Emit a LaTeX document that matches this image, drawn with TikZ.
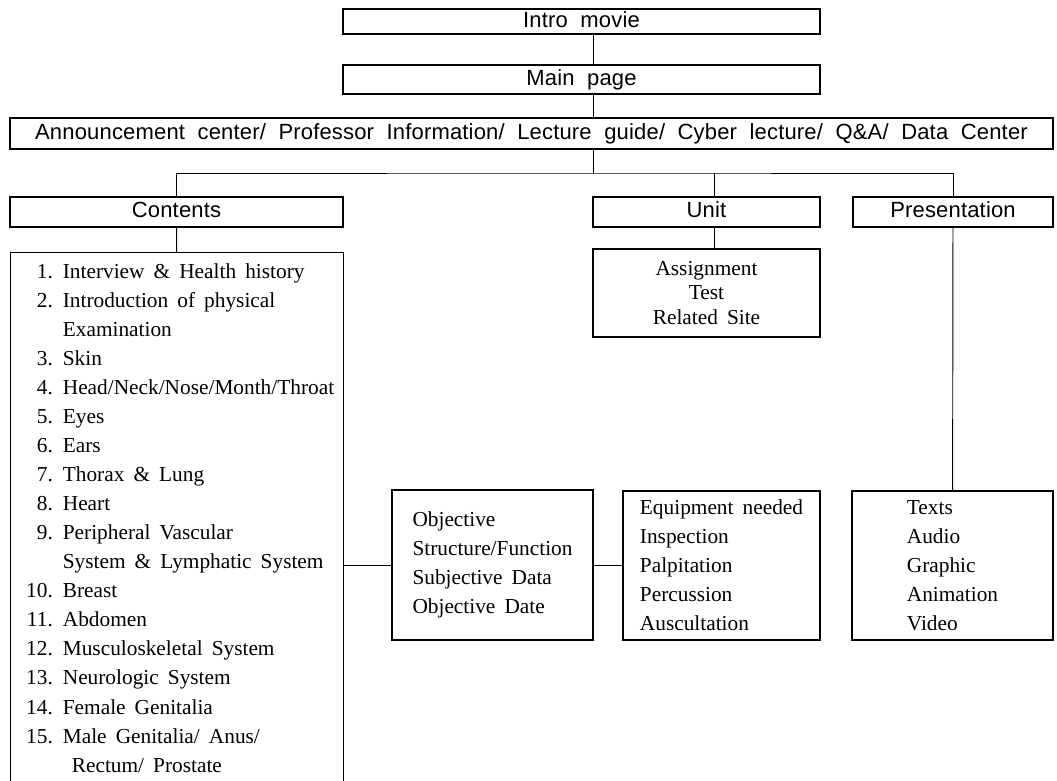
\documentclass[tikz,border=0pt]{standalone}
\usepackage{fontspec}
\setmainfont{Liberation Serif}[WordSpace=1.7]
\newfontfamily\boxsans{Liberation Sans}[LetterSpace=0.8,WordSpace=2.0]
\usepackage{tikz}
\usetikzlibrary{shapes.geometric, arrows}
\usetikzlibrary{calc}
\newlength{\px}
\setlength{\px}{0.75pt}
\newcommand{\itm}[2]{\makebox[24.75pt][r]{#1}\hspace*{7.5pt}#2}
\newcommand{\cnt}[1]{\hspace*{32.25pt}#1}
\tikzstyle{pagebox} = [rectangle, minimum height=30\px, text centered, draw = black, line width=0.8pt, inner sep=0pt, text height=11.8pt, text depth=3.5pt, font=\boxsans\fontsize{16.5}{19}\selectfont]
\tikzstyle{listbox} = [rectangle, draw = black, line width=0.8pt, inner sep=0pt, align=left, font=\fontsize{16}{21.8}\selectfont]
\tikzstyle{link} = [-, line width=0.7pt]

\begin{document}
\begin{tikzpicture}[x=0.75pt, y=-0.75pt]
	\useasboundingbox (0,0) rectangle (1057,781);
	%top menu levels
	\node (intro) [pagebox, minimum width=477\px, minimum height=25\px] at (581.5,21.5) {Intro movie};
	\node (mainpg) [pagebox, minimum width=477\px, minimum height=29\px] at (581.5,79.5) {Main page};
	\node (menu) [pagebox, minimum width=1043\px, minimum height=31\px] at (531.5,133.5) {Announcement center/ Professor Information/ Lecture guide/ Cyber lecture/ Q\&A/ Data Center};
	\node (contents) [pagebox, minimum width=333\px] at (176.5,212) {Contents};
	\node (unit) [pagebox, minimum width=227\px] at (706.5,212) {Unit};
	\node (present) [pagebox, minimum width=200\px] at (953,212) {Presentation};
	\node (unitlist) [listbox, align=center, minimum width=227\px, minimum height=88\px, font=\fontsize{16}{18.4}\selectfont] at (706.5,293) {Assignment\\Test\\Related Site};
	\node (topics) [listbox, anchor=north west, minimum width=333\px, inner ysep=8pt] at (10,252) {
		\itm{1.}{Interview \& Health history}\\
		\itm{2.}{Introduction of physical}\\
		\cnt{Examination}\\
		\itm{3.}{Skin}\\
		\itm{4.}{Head/Neck/Nose/Month/Throat}\\
		\itm{5.}{Eyes}\\
		\itm{6.}{Ears}\\
		\itm{7.}{Thorax \& Lung}\\
		\itm{8.}{Heart}\\
		\itm{9.}{Peripheral Vascular}\\
		\cnt{System \& Lymphatic System}\\
		\itm{10.}{Breast}\\
		\itm{11.}{Abdomen}\\
		\itm{12.}{Musculoskeletal System}\\
		\itm{13.}{Neurologic System}\\
		\itm{14.}{Female Genitalia}\\
		\itm{15.}{Male Genitalia/ Anus/}\\
		\hspace*{39pt}Rectum/ Prostate\\
		\mbox{}};
	\node (objective) [listbox, minimum width=201\px, minimum height=150\px] at (492.5,565) {Objective\\Structure/Function\\Subjective Data\\Objective Date};
	\node (exam) [listbox, minimum width=197\px, minimum height=149\px] at (721.5,565.5) {Equipment needed\\Inspection\\Palpitation\\Percussion\\Auscultation};
	\node (media) [listbox, minimum width=201\px, minimum height=149\px] at (952.5,565.5) {Texts\\Audio\\Graphic\\Animation\\Video};
	\coordinate (trunk) at (593,173);
	\coordinate (ujoin) at (714,173);
	\draw [link](intro.south -| trunk) -- (mainpg.north -| trunk);
	\draw [link](mainpg.south -| trunk) -- (menu.north -| trunk);
	\draw [link](menu.south -| trunk) -- (trunk);
	\draw [link](contents.north) |- (trunk) -| (present.north);
	\draw [link](ujoin) -- (ujoin |- unit.north);
	\draw [link](unit.south -| ujoin) -- (unitlist.north -| ujoin);
	\draw [link](contents) -- (topics);
	\draw [link](present) -- (media);
	\draw [link](topics.east |- objective.west) -- (objective.west);
	\draw [link](objective.east) -- (exam.west |- objective.east);
\end{tikzpicture}
\end{document}
